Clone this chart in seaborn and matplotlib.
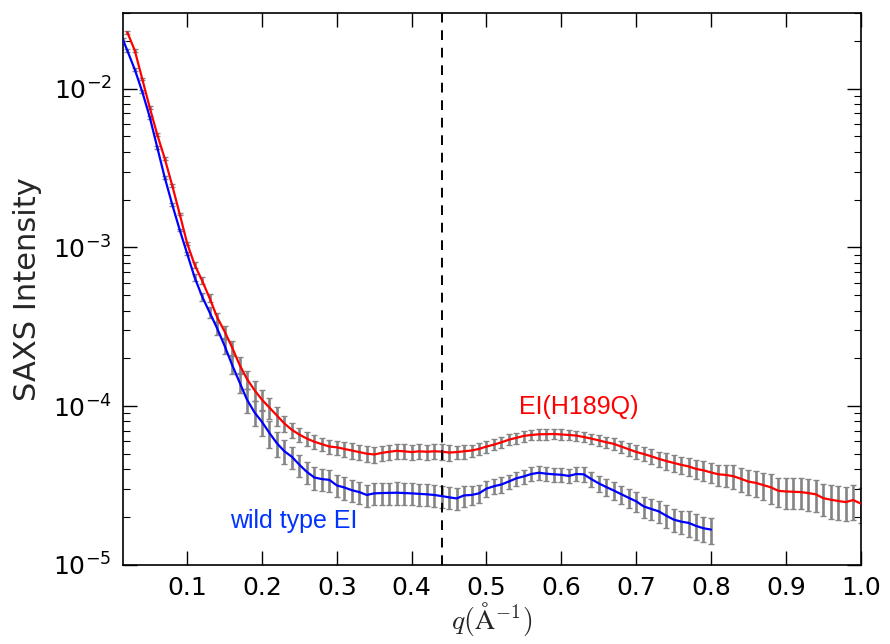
import numpy as np
import matplotlib
matplotlib.use("Agg")
import matplotlib.pyplot as plt
from matplotlib.ticker import FixedLocator, NullLocator, LogLocator
import seaborn as sns

# ---------------- data ----------------
red_q = [0.02, 0.03, 0.04, 0.05, 0.06, 0.07, 0.08, 0.09, 0.10,
         0.11, 0.12, 0.13, 0.14, 0.15, 0.16, 0.17, 0.18, 0.19, 0.20,
         0.21, 0.22, 0.23, 0.24, 0.25, 0.26, 0.27, 0.28, 0.29, 0.30,
         0.31, 0.32, 0.33, 0.34, 0.35, 0.36, 0.37, 0.38, 0.39, 0.40,
         0.41, 0.42, 0.43, 0.44, 0.45, 0.46, 0.47, 0.48, 0.49, 0.50,
         0.51, 0.52, 0.53, 0.54, 0.55, 0.56, 0.57, 0.58, 0.59, 0.60,
         0.61, 0.62, 0.63, 0.64, 0.65, 0.66, 0.67, 0.68, 0.69, 0.70,
         0.71, 0.72, 0.73, 0.74, 0.75, 0.76, 0.77, 0.78, 0.79, 0.80,
         0.81, 0.82, 0.83, 0.84, 0.85, 0.86, 0.87, 0.88, 0.89, 0.90,
         0.91, 0.92, 0.93, 0.94, 0.95, 0.96, 0.97, 0.98, 0.99, 1.00]
red_log10_I = [-1.645, -1.76, -1.94, -2.12, -2.29, -2.44, -2.61, -2.79, -2.975,
               -3.11, -3.21, -3.32, -3.44, -3.53, -3.63, -3.74, -3.83, -3.90, -3.96,
               -4.01, -4.06, -4.11, -4.15, -4.18, -4.205, -4.225, -4.24, -4.255, -4.26,
               -4.27, -4.28, -4.29, -4.30, -4.305, -4.295, -4.288, -4.282, -4.285, -4.29,
               -4.285, -4.288, -4.285, -4.287, -4.293, -4.29, -4.285, -4.28, -4.27, -4.255,
               -4.243, -4.228, -4.212, -4.20, -4.188, -4.182, -4.178, -4.177, -4.176, -4.179,
               -4.182, -4.186, -4.195, -4.205, -4.216, -4.228, -4.238, -4.255, -4.272, -4.289,
               -4.302, -4.316, -4.332, -4.346, -4.358, -4.370, -4.380, -4.396, -4.405, -4.418,
               -4.430, -4.434, -4.442, -4.458, -4.476, -4.484, -4.498, -4.512, -4.534, -4.538,
               -4.540, -4.542, -4.548, -4.556, -4.580, -4.590, -4.598, -4.605, -4.592, -4.614]
red_rel_err = [0.02, 0.02, 0.02, 0.02, 0.02, 0.02, 0.02, 0.02, 0.02,
               0.04, 0.05, 0.06, 0.07, 0.09, 0.10, 0.12, 0.13, 0.14, 0.15,
               0.15, 0.14, 0.12, 0.11, 0.10, 0.10, 0.10, 0.10, 0.10, 0.10,
               0.11, 0.11, 0.11, 0.11, 0.11, 0.11, 0.11, 0.11, 0.11, 0.11,
               0.11, 0.11, 0.11, 0.11, 0.11, 0.10, 0.10, 0.09, 0.09, 0.09,
               0.08, 0.08, 0.08, 0.08, 0.08, 0.075, 0.075, 0.075, 0.075, 0.075,
               0.075, 0.075, 0.075, 0.075, 0.075, 0.08, 0.085, 0.09, 0.09, 0.10,
               0.10, 0.11, 0.11, 0.12, 0.12, 0.12, 0.13, 0.13, 0.14, 0.14,
               0.15, 0.16, 0.17, 0.17, 0.18, 0.19, 0.20, 0.21, 0.21, 0.22,
               0.22, 0.22, 0.23, 0.23, 0.23, 0.24, 0.24, 0.24, 0.25, 0.25]

blue_q = [0.014, 0.02, 0.03, 0.04, 0.05, 0.06, 0.07, 0.08, 0.09, 0.10,
          0.11, 0.12, 0.13, 0.14, 0.15, 0.16, 0.17, 0.18, 0.19, 0.20,
          0.21, 0.22, 0.23, 0.24, 0.25, 0.26, 0.27, 0.28, 0.29, 0.30,
          0.31, 0.32, 0.33, 0.34, 0.35, 0.36, 0.37, 0.38, 0.39, 0.40,
          0.41, 0.42, 0.43, 0.44, 0.45, 0.46, 0.47, 0.48, 0.49, 0.50,
          0.51, 0.52, 0.53, 0.54, 0.55, 0.56, 0.57, 0.58, 0.59, 0.60,
          0.61, 0.62, 0.63, 0.64, 0.65, 0.66, 0.67, 0.68, 0.69, 0.70,
          0.71, 0.72, 0.73, 0.74, 0.75, 0.76, 0.77, 0.78, 0.79, 0.80]
blue_log10_I = [-1.69, -1.76, -1.88, -2.02, -2.18, -2.37, -2.56, -2.73, -2.89, -3.04,
                -3.19, -3.31, -3.41, -3.51, -3.62, -3.74, -3.85, -3.96, -4.04, -4.10,
                -4.17, -4.235, -4.285, -4.32, -4.37, -4.415, -4.45, -4.46, -4.465, -4.50,
                -4.513, -4.53, -4.542, -4.56, -4.55, -4.548, -4.547, -4.546, -4.548, -4.55,
                -4.553, -4.556, -4.56, -4.567, -4.575, -4.582, -4.563, -4.56, -4.55, -4.52,
                -4.505, -4.494, -4.475, -4.455, -4.443, -4.428, -4.42, -4.426, -4.43, -4.433,
                -4.44, -4.428, -4.43, -4.46, -4.487, -4.51, -4.532, -4.555, -4.578, -4.60,
                -4.632, -4.648, -4.663, -4.69, -4.715, -4.728, -4.736, -4.755, -4.77, -4.778]
blue_rel_err = [0.02, 0.02, 0.02, 0.02, 0.02, 0.02, 0.02, 0.02, 0.02, 0.02,
                0.05, 0.06, 0.08, 0.09, 0.11, 0.13, 0.15, 0.17, 0.18, 0.19,
                0.19, 0.18, 0.17, 0.16, 0.16, 0.16, 0.16, 0.16, 0.16, 0.16,
                0.16, 0.16, 0.16, 0.16, 0.16, 0.16, 0.16, 0.16, 0.16, 0.16,
                0.16, 0.16, 0.16, 0.16, 0.16, 0.16, 0.15, 0.14, 0.13, 0.12,
                0.11, 0.11, 0.10, 0.10, 0.10, 0.10, 0.10, 0.10, 0.10, 0.10,
                0.10, 0.10, 0.11, 0.11, 0.12, 0.12, 0.13, 0.13, 0.14, 0.14,
                0.15, 0.15, 0.16, 0.16, 0.17, 0.17, 0.18, 0.18, 0.18, 0.19]

x_ticks = [0.1, 0.2, 0.3, 0.4, 0.5, 0.6, 0.7, 0.8, 0.9, 1.0]
x_tick_labels = ["0.1", "0.2", "0.3", "0.4", "0.5", "0.6", "0.7", "0.8", "0.9", "1.0"]
y_ticks = [1e-5, 1e-4, 1e-3, 1e-2]
y_tick_labels = [r"$10^{-5}$", r"$10^{-4}$", r"$10^{-3}$", r"$10^{-2}$"]
marker_q = 0.44

label_red = "EI(H189Q)"
label_blue = "wild type EI"

# ---------------- plotting ----------------
sns.set_style("ticks")
plt.rcParams['font.family'] = ['DejaVu Sans']
plt.rcParams['mathtext.fontset'] = 'dejavusans'

fig = plt.figure(figsize=(8.9, 6.44), dpi=100)
ax = fig.add_axes([0.138, 0.123, 0.829, 0.857])
ax.set_yscale('log')

for q, lg, rel, col in [(red_q, red_log10_I, red_rel_err, '#ff0000'),
                        (blue_q, blue_log10_I, blue_rel_err, '#0000ff')]:
    q = np.asarray(q)
    I = 10.0 ** np.asarray(lg)
    err = I * np.asarray(rel)
    ax.errorbar(q, I, yerr=err, fmt='none', ecolor='#858585', elinewidth=1.9,
                capsize=2.5, capthick=1.0, zorder=2)
    sns.lineplot(x=q, y=I, color=col, linewidth=1.6, ax=ax, zorder=3,
                 estimator=None, sort=False)

ax.axvline(marker_q, color='black', linestyle=(0, (5, 4)), linewidth=1.4, zorder=4)

ax.set_xlim(0.014, 1.0)
ax.set_ylim(1e-5, 3e-2)

ax.xaxis.set_major_locator(FixedLocator(x_ticks))
ax.set_xticklabels(x_tick_labels)
ax.xaxis.set_minor_locator(NullLocator())
ax.yaxis.set_major_locator(FixedLocator(y_ticks))
ax.set_yticklabels(y_tick_labels)
ax.yaxis.set_minor_locator(LogLocator(base=10, subs=np.arange(2, 10), numticks=20))

ax.tick_params(which='both', direction='in', top=True, right=True, colors='black')
ax.tick_params(which='major', length=10, width=1.0, labelsize=18, pad=8)
ax.tick_params(which='minor', length=5, width=0.8)
for s in ax.spines.values():
    s.set_color('black')
    s.set_linewidth(1.2)

ax.set_ylabel('SAXS Intensity', fontsize=22, labelpad=8)
ax.set_xlabel(r'$q(\mathrm{\AA}^{-1})$', fontsize=20, math_fontfamily='cm', labelpad=0)

ax.text(0.623, 9.9e-5, label_red, color='#ff0000', fontsize=18,
        family=['Liberation Sans', 'DejaVu Sans'], ha='center', va='center')
ax.text(0.242, 1.9e-5, label_blue, color='#0033ff', fontsize=18,
        family=['Liberation Sans', 'DejaVu Sans'], ha='center', va='center')

fig.savefig('out.png', dpi=100)
